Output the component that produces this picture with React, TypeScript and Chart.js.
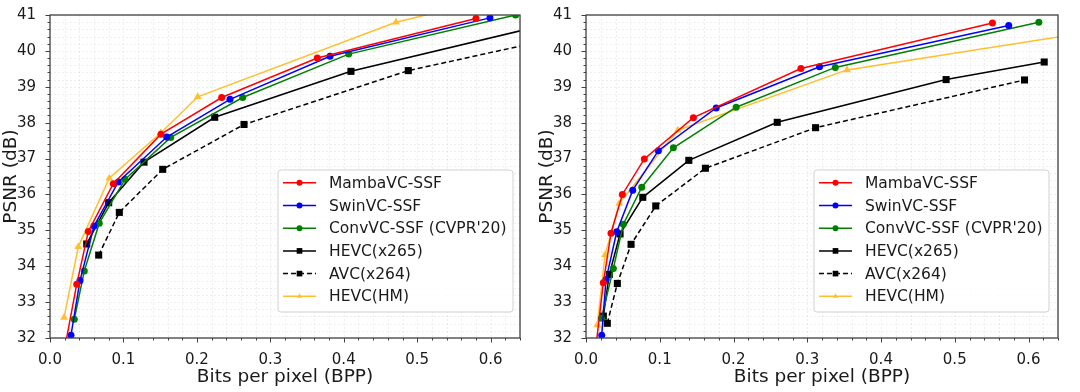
import React, { useEffect, useRef } from 'react';
import { Chart, registerables } from 'chart.js';

Chart.register(...registerables);

// ---------- data ----------
const seriesLabels = ['MambaVC-SSF', 'SwinVC-SSF', "ConvVC-SSF (CVPR'20)", 'HEVC(x265)', 'AVC(x264)', 'HEVC(HM)'];
const xTickValues = [0, 0.1, 0.2, 0.3, 0.4, 0.5, 0.6];
const xTickLabels = ['0.0', '0.1', '0.2', '0.3', '0.4', '0.5', '0.6'];
const yTickValues = [32, 33, 34, 35, 36, 37, 38, 39, 40, 41];
const yTickLabels = ['32', '33', '34', '35', '36', '37', '38', '39', '40', '41'];

// left panel
const leftMambaBpp = [0.019, 0.0364, 0.0522, 0.0862, 0.1511, 0.2338, 0.364, 0.58];
const leftMambaPsnr = [31.6, 33.5, 34.97, 36.3, 37.68, 38.7, 39.8, 40.9];
const leftSwinBpp = [0.0286, 0.0408, 0.0599, 0.093, 0.1589, 0.2451, 0.3813, 0.5991];
const leftSwinPsnr = [32.08, 33.6, 35.12, 36.35, 37.6, 38.65, 39.85, 40.92];
const leftConvBpp = [0.0331, 0.0467, 0.0671, 0.1021, 0.1644, 0.2624, 0.4067, 0.634];
const leftConvPsnr = [32.52, 33.87, 35.2, 36.42, 37.59, 38.7, 39.91, 41.0];
const leftX265Bpp = [0.05, 0.0799, 0.128, 0.2243, 0.4098, 0.72];
const leftX265Psnr = [34.62, 35.77, 36.9, 38.15, 39.43, 40.95];
const leftX264Bpp = [0.0663, 0.0944, 0.1535, 0.2642, 0.4879, 0.8];
const leftX264Psnr = [34.31, 35.5, 36.7, 37.95, 39.45, 40.85];
const leftHmBpp = [0.0191, 0.0385, 0.0807, 0.1511, 0.2011, 0.4711, 0.7];
const leftHmPsnr = [32.57, 34.54, 36.45, 37.72, 38.72, 40.8, 41.93];

// right panel
const rightMambaBpp = [0.012, 0.0235, 0.0339, 0.0493, 0.0791, 0.1456, 0.2914, 0.5511];
const rightMambaPsnr = [31.5, 33.54, 34.92, 36.0, 36.99, 38.14, 39.51, 40.78];
const rightSwinBpp = [0.0213, 0.0271, 0.0417, 0.0634, 0.0981, 0.1765, 0.3167, 0.5732];
const rightSwinPsnr = [32.08, 33.63, 34.96, 36.12, 37.22, 38.41, 39.56, 40.71];
const rightConvBpp = [0.021, 0.0371, 0.0506, 0.0756, 0.1185, 0.2036, 0.338, 0.614];
const rightConvPsnr = [32.55, 33.94, 35.17, 36.2, 37.3, 38.43, 39.54, 40.8];
const rightX265Bpp = [0.0235, 0.0316, 0.0462, 0.077, 0.1394, 0.2593, 0.4883, 0.6213];
const rightX265Psnr = [32.61, 33.77, 34.9, 35.92, 36.95, 38.01, 39.2, 39.69];
const rightX264Bpp = [0.0289, 0.0425, 0.0611, 0.0946, 0.1619, 0.3113, 0.5946];
const rightX264Psnr = [32.41, 33.52, 34.61, 35.68, 36.73, 37.86, 39.19];
const rightHmBpp = [0.0153, 0.0258, 0.045, 0.1245, 0.3539, 0.7];
const rightHmPsnr = [32.36, 34.31, 35.75, 37.79, 39.47, 40.58];

// ---------- styles ----------
const FONT = '"DejaVu Sans", "Liberation Sans", sans-serif';
const seriesStyles = [
  { color: '#ff0000', point: 'circle', radius: 3.5, dash: [] as number[] },
  { color: '#0000ff', point: 'circle', radius: 3.5, dash: [] as number[] },
  { color: '#008000', point: 'circle', radius: 3.5, dash: [] as number[] },
  { color: '#000000', point: 'rect', radius: 5, dash: [] as number[] },
  { color: '#000000', point: 'rect', radius: 5, dash: [5, 3] },
  { color: '#ffbf2e', point: 'triangle', radius: 4.5, dash: [] as number[] },
];

function toPoints(xs: number[], ys: number[]) {
  return xs.map((x, i) => ({ x, y: ys[i] }));
}

const gridPlugin = {
  id: 'minorGrid',
  beforeDatasetsDraw(chart: any) {
    const { ctx, chartArea: a, scales } = chart;
    const xs = scales.x;
    const ys = scales.y;
    ctx.save();
    ctx.strokeStyle = 'rgba(0,0,0,0.085)';
    ctx.lineWidth = 0.8;
    ctx.setLineDash([2, 2]);
    for (let i = 0; i <= 32; i++) {
      const px = Math.round(xs.getPixelForValue(i * 0.02)) + 0.5;
      ctx.beginPath();
      ctx.moveTo(px, a.top);
      ctx.lineTo(px, a.bottom);
      ctx.stroke();
    }
    for (let j = 0; j <= 45; j++) {
      const py = Math.round(ys.getPixelForValue(32 + j * 0.2)) + 0.5;
      ctx.beginPath();
      ctx.moveTo(a.left, py);
      ctx.lineTo(a.right, py);
      ctx.stroke();
    }
    ctx.restore();
  },
};

const framePlugin = {
  id: 'frame',
  afterDatasetsDraw(chart: any) {
    const { ctx, chartArea: a, scales } = chart;
    const xs = scales.x;
    const ys = scales.y;
    ctx.save();
    ctx.strokeStyle = '#404040';
    ctx.lineWidth = 1.3;
    ctx.setLineDash([]);
    ctx.strokeRect(a.left, a.top, a.right - a.left, a.bottom - a.top);
    ctx.lineWidth = 1;
    for (let i = 0; i <= 32; i++) {
      const px = Math.round(xs.getPixelForValue(i * 0.02)) + 0.5;
      const len = i % 5 === 0 ? 4.5 : 2.5;
      ctx.beginPath();
      ctx.moveTo(px, a.bottom);
      ctx.lineTo(px, a.bottom + len);
      ctx.stroke();
    }
    for (let j = 0; j <= 45; j++) {
      const py = Math.round(ys.getPixelForValue(32 + j * 0.2)) + 0.5;
      const len = j % 5 === 0 ? 4.5 : 2.5;
      ctx.beginPath();
      ctx.moveTo(a.left, py);
      ctx.lineTo(a.left - len, py);
      ctx.stroke();
    }
    ctx.restore();
  },
};

function drawMarker(ctx: CanvasRenderingContext2D, kind: string, x: number, y: number, r: number, color: string) {
  ctx.fillStyle = color;
  ctx.beginPath();
  if (kind === 'circle') {
    ctx.arc(x, y, r, 0, Math.PI * 2);
  } else if (kind === 'rect') {
    const s = Math.SQRT1_2 * r;
    ctx.rect(x - s, y - s, 2 * s, 2 * s);
  } else {
    ctx.moveTo(x, y - r);
    ctx.lineTo(x + r * 0.866, y + r * 0.5);
    ctx.lineTo(x - r * 0.866, y + r * 0.5);
    ctx.closePath();
  }
  ctx.fill();
}

const legendPlugin = {
  id: 'boxLegend',
  afterDraw(chart: any) {
    const { ctx, chartArea: a } = chart;
    const opts = chart.options.plugins.boxLegend || {};
    const w = 235;
    const h = 142;
    const right = a.right - (opts.rightGap ?? 7);
    const bottom = a.bottom - (opts.bottomGap ?? 26);
    const left = right - w;
    const top = bottom - h;
    ctx.save();
    ctx.beginPath();
    const rr = 3;
    ctx.moveTo(left + rr, top);
    ctx.lineTo(left + w - rr, top);
    ctx.quadraticCurveTo(left + w, top, left + w, top + rr);
    ctx.lineTo(left + w, top + h - rr);
    ctx.quadraticCurveTo(left + w, top + h, left + w - rr, top + h);
    ctx.lineTo(left + rr, top + h);
    ctx.quadraticCurveTo(left, top + h, left, top + h - rr);
    ctx.lineTo(left, top + rr);
    ctx.quadraticCurveTo(left, top, left + rr, top);
    ctx.closePath();
    ctx.fillStyle = 'rgba(255,255,255,0.85)';
    ctx.fill();
    ctx.strokeStyle = '#d0d0d0';
    ctx.lineWidth = 1;
    ctx.stroke();

    ctx.font = `15.5px ${FONT}`;
    ctx.textBaseline = 'middle';
    ctx.textAlign = 'left';
    seriesLabels.forEach((label, i) => {
      const st = seriesStyles[i];
      const cy = top + 12.8 + i * 22.7;
      ctx.strokeStyle = st.color;
      ctx.lineWidth = 1.5;
      ctx.setLineDash(st.dash);
      ctx.beginPath();
      ctx.moveTo(left + 5, cy);
      ctx.lineTo(left + 38, cy);
      ctx.stroke();
      ctx.setLineDash([]);
      drawMarker(ctx, st.point, left + 21.5, cy, st.point === 'rect' ? 4 : 3, st.color);
      ctx.fillStyle = '#1a1a1a';
      ctx.fillText(label, left + 51, cy + 1);
    });
    ctx.restore();
  },
};

function buildConfig(series: { x: number[]; y: number[] }[], rightPad: number, rightGap: number) {
  const datasets = series.map((s, i) => {
    const st = seriesStyles[i];
    return {
      label: seriesLabels[i],
      data: toPoints(s.x, s.y),
      showLine: true,
      borderColor: st.color,
      backgroundColor: st.color,
      borderWidth: 1.5,
      borderDash: st.dash,
      pointStyle: st.point,
      pointRadius: st.radius,
      pointBorderWidth: 0,
      pointBackgroundColor: st.color,
      pointBorderColor: st.color,
      tension: 0,
      clip: 0,
    };
  });
  return {
    type: 'scatter' as const,
    data: { datasets },
    options: {
      animation: false as const,
      responsive: false,
      devicePixelRatio: 1,
      layout: { padding: { left: 0, right: rightPad, top: 15, bottom: 0 } },
      plugins: {
        legend: { display: false },
        tooltip: { enabled: false },
        boxLegend: { rightGap: rightGap, bottomGap: 26 },
      },
      scales: {
        x: {
          type: 'linear' as const,
          min: 0,
          max: 0.64,
          grid: { display: false },
          border: { display: false },
          afterBuildTicks: (scale: any) => {
            scale.ticks = xTickValues.map((v) => ({ value: v }));
          },
          ticks: {
            autoSkip: false,
            maxRotation: 0,
            padding: 5,
            color: '#1a1a1a',
            font: { family: FONT, size: 15 },
            callback: (v: number) => {
              const idx = xTickValues.findIndex((t) => Math.abs(t - v) < 1e-6);
              return idx >= 0 ? xTickLabels[idx] : '';
            },
          },
          title: {
            display: true,
            text: 'Bits per pixel (BPP)',
            color: '#1a1a1a',
            font: { family: FONT, size: 18.5 },
            padding: { top: 2, bottom: 4 },
          },
          afterFit: (scale: any) => {
            scale.height = 54;
          },
        },
        y: {
          type: 'linear' as const,
          min: 32,
          max: 41,
          grid: { display: false },
          border: { display: false },
          afterBuildTicks: (scale: any) => {
            scale.ticks = yTickValues.map((v) => ({ value: v }));
          },
          ticks: {
            autoSkip: false,
            padding: 6,
            color: '#1a1a1a',
            font: { family: FONT, size: 15 },
            callback: (v: number) => {
              const idx = yTickValues.findIndex((t) => Math.abs(t - v) < 1e-6);
              return idx >= 0 ? yTickLabels[idx] : '';
            },
          },
          title: {
            display: true,
            text: 'PSNR (dB)',
            color: '#1a1a1a',
            font: { family: FONT, size: 18.5 },
            padding: { top: 0, bottom: 2 },
          },
          afterFit: (scale: any) => {
            scale.width = 50;
          },
        },
      },
    },
    plugins: [gridPlugin, framePlugin, legendPlugin],
  };
}

function Panel({ series, width, rightPad, rightGap, left }: any) {
  const ref = useRef<HTMLCanvasElement | null>(null);
  useEffect(() => {
    if (!ref.current) return;
    const chart = new Chart(ref.current, buildConfig(series, rightPad, rightGap) as any);
    return () => chart.destroy();
  }, []);
  return (
    <canvas
      ref={ref}
      width={width}
      height={392}
      style={{ position: 'absolute', left, top: 0, width, height: 392, display: 'block' }}
    />
  );
}

export default function App() {
  const leftSeries = [
    { x: leftMambaBpp, y: leftMambaPsnr },
    { x: leftSwinBpp, y: leftSwinPsnr },
    { x: leftConvBpp, y: leftConvPsnr },
    { x: leftX265Bpp, y: leftX265Psnr },
    { x: leftX264Bpp, y: leftX264Psnr },
    { x: leftHmBpp, y: leftHmPsnr },
  ];
  const rightSeries = [
    { x: rightMambaBpp, y: rightMambaPsnr },
    { x: rightSwinBpp, y: rightSwinPsnr },
    { x: rightConvBpp, y: rightConvPsnr },
    { x: rightX265Bpp, y: rightX265Psnr },
    { x: rightX264Bpp, y: rightX264Psnr },
    { x: rightHmBpp, y: rightHmPsnr },
  ];
  return (
    <div style={{ position: 'fixed', left: 0, top: 0, width: 1080, height: 392, background: '#fff', overflow: 'hidden' }}>
      <Panel series={leftSeries} width={540} rightPad={20} rightGap={7} left={0} />
      <Panel series={rightSeries} width={544} rightPad={22} rightGap={9} left={536} />
    </div>
  );
}
